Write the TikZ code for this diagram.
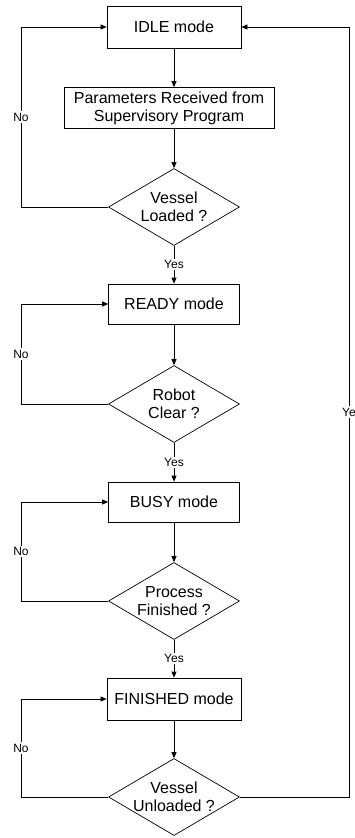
\documentclass[tikz,border=0pt]{standalone}
\usepackage{fontspec}
\setmainfont{Liberation Sans}
\usetikzlibrary{positioning}
\usetikzlibrary{calc}
\usetikzlibrary{arrows.meta}
\usetikzlibrary{shapes.geometric}

\tikzset{
  modebox/.style={draw, line width=0.7pt, minimum width=131pt, minimum height=40pt,
    inner sep=2pt, align=center, font=\fontsize{16}{18}\selectfont},
  decision/.style={draw, diamond, aspect=1.7, line width=0.7pt, minimum width=131pt,
    minimum height=77pt, inner sep=-10pt, align=center, font=\fontsize{16}{18}\selectfont},
  flow/.style={line width=0.7pt, -{Triangle[length=6pt,width=5pt]}},
  answer/.style={fill=white, inner sep=1.5pt, font=\fontsize{12}{14}\selectfont},
}

\begin{document}
\begin{tikzpicture}[x=1pt, y=1pt]
\useasboundingbox (0,0) rectangle (355,-838);

% Modes and checks down the middle
\node[modebox, minimum width=134pt, minimum height=42pt] (idle) at (174,-27) {IDLE mode};
\node[modebox, minimum width=210pt, minimum height=41pt] (params) at (169,-108) {Parameters Received from\\Supervisory Program};
\node[decision] (loaded) at (174,-207) {Vessel\\Loaded ?};
\node[modebox] (ready) at (174,-304) {READY mode};
\node[decision] (clear) at (174,-404) {Robot\\Clear ?};
\node[modebox] (busy) at (174,-502) {BUSY mode};
\node[decision] (processed) at (174,-601) {Process\\Finished ?};
\node[modebox, minimum width=134pt, minimum height=42pt] (finished) at (174,-699) {FINISHED mode};
\node[decision] (unloaded) at (174,-797) {Vessel\\Unloaded ?};

% Corners of the return loops
\coordinate (back1) at (21,-207);
\coordinate (back2) at (21,-404);
\coordinate (back3) at (21,-601);
\coordinate (back4) at (21,-797);
\coordinate (backidle) at (349,-797);

% Main line
\draw[flow] (idle.south) -- (idle.south |- params.north);
\draw[flow] (params.south -| loaded.north) -- (loaded.north);
\draw[flow] (loaded) -- node[answer] {Yes} (ready);
\draw[flow] (ready) -- (clear);
\draw[flow] (clear) -- node[answer] {Yes} (busy);
\draw[flow] (busy) -- (processed);
\draw[flow] (processed) -- node[answer] {Yes} (finished);
\draw[flow] (finished) -- (unloaded);

% Loops
\draw[flow] (loaded.west) -- (back1) |- node[answer, pos=0.25] {No} (idle.west);
\draw[flow] (clear.west) -- (back2) |- node[answer, pos=0.25] {No} (ready.west);
\draw[flow] (processed.west) -- (back3) |- node[answer, pos=0.25] {No} (busy.west);
\draw[flow] (unloaded.west) -- (back4) |- node[answer, pos=0.25] {No} (finished.west);
\draw[flow] (unloaded.east) -- (backidle) |- node[answer, pos=0.25] {Ye} (idle.east);
\end{tikzpicture}
\end{document}
